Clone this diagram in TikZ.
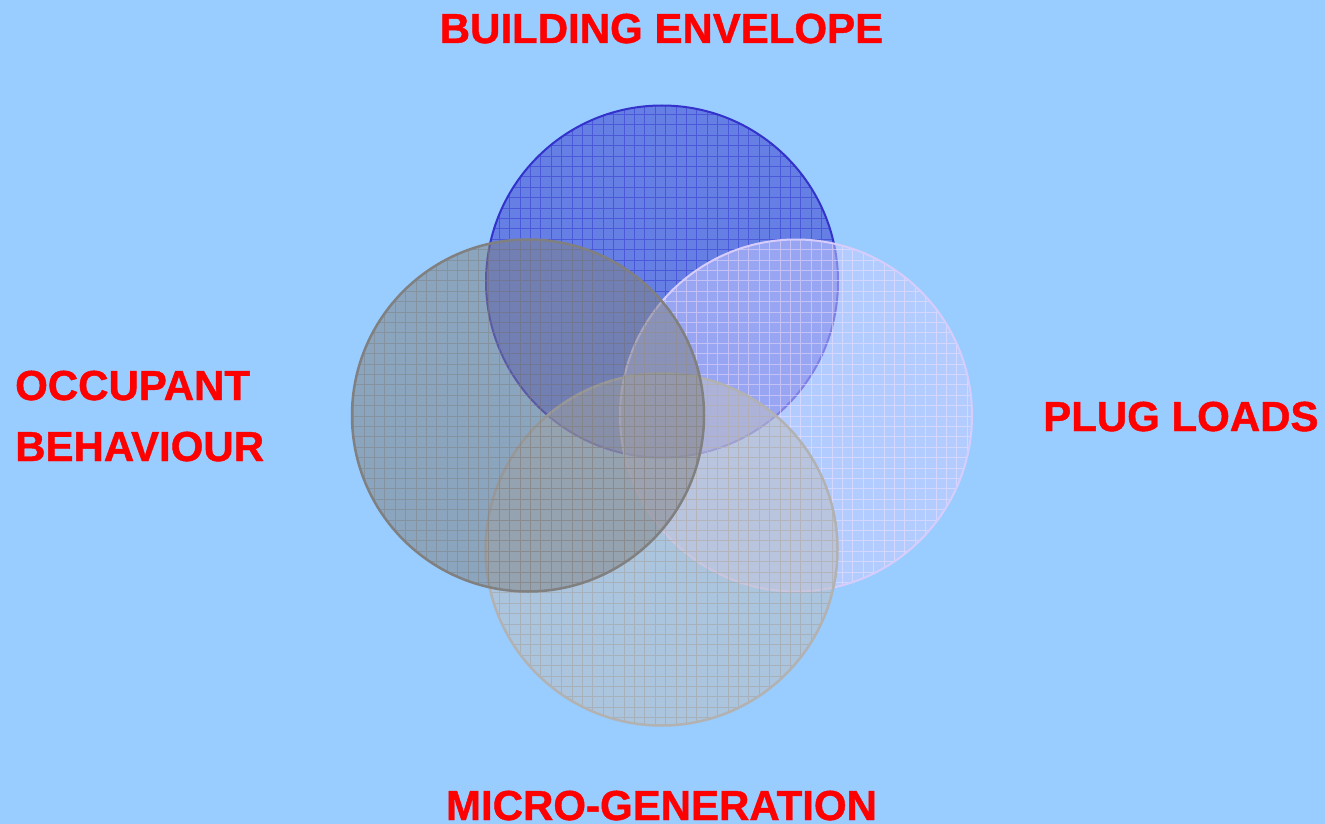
\documentclass[tikz,border=0pt]{standalone}
\usepackage{fontspec}
\setmainfont{Liberation Sans}
\newfontfamily\lblfont[FakeBold=1]{Liberation Sans Bold}
\definecolor{bg}{RGB}{153,204,255}
\definecolor{envc}{RGB}{51,51,204}
\definecolor{plugc}{RGB}{204,204,255}
\definecolor{plugline}{RGB}{235,225,255}
\definecolor{plugedge}{RGB}{215,205,252}
\definecolor{occc}{RGB}{128,128,128}
\definecolor{microc}{RGB}{192,192,192}
\definecolor{microline}{RGB}{165,165,165}
\definecolor{microedge}{RGB}{178,178,178}
\definecolor{lblred}{RGB}{255,0,0}
\tikzset{
  lbl/.style={text=lblred, font=\fontsize{42}{61}\selectfont\lblfont, inner sep=0pt, align=left},
  setcircle/.style={circle, minimum size=352pt, inner sep=0pt, draw=none},
}
% #1 name, #2 x, #3 y, #4 fill colour, #5 grid colour, #6 grid opacity, #7 edge colour, #8 edge width
\newcommand{\vennset}[8]{%
  \node[setcircle, fill=#4, fill opacity=0.5] (#1) at (#2,#3) {};
  \begin{scope}
    \clip (#1.center) circle (176pt);
    \draw[draw=#5, opacity=#6, line width=0.9pt, step=10.4pt] (#2-190,#3-190) grid (#2+190,#3+190);
  \end{scope}
  \draw[draw=#7, line width=#8] (#1.center) circle (176pt);
}
\begin{document}
\begin{tikzpicture}[x=1pt,y=-1pt]
  \useasboundingbox (0,0) rectangle (1325,824);
  \fill[bg] (0,0) rectangle (1325,824);
  \vennset{env}{662}{281.5}{envc}{envc}{0.5}{envc}{2pt}
  \vennset{plug}{796}{415.5}{plugc}{plugline}{0.6}{plugedge}{2pt}
  \vennset{micro}{661.5}{549.5}{microc}{microline}{0.6}{microedge}{2.5pt}
  \vennset{occ}{528}{415.5}{occc}{occc}{0.5}{occc}{2.5pt}
  \node[lbl, anchor=base] (tenv) at (661.5,43) {BUILDING ENVELOPE};
  \node[lbl, anchor=base west] (tocc1) at (15,400) {OCCUPANT};
  \node[lbl, anchor=base west] (tocc2) at (15,461) {BEHAVIOUR};
  \node[lbl, anchor=base west] (tplug) at (1043,431) {PLUG LOADS};
  \node[lbl, anchor=base] (tmicro) at (661.5,820) {MICRO-GENERATION};
\end{tikzpicture}
\end{document}
